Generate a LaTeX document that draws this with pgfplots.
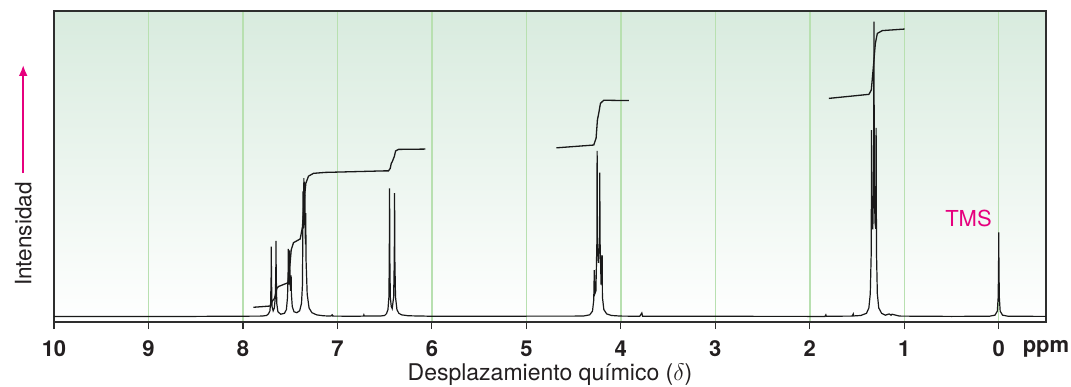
\documentclass[border=0pt]{standalone}
\usepackage{fontspec}
\setmainfont{TeX Gyre Heros}
\usepackage{pgfplots}
\pgfplotsset{compat=1.18}
\usetikzlibrary{arrows.meta}
\definecolor{bgtop}{HTML}{D8EBDE}
\definecolor{gridgreen}{HTML}{B8E0B0}
\definecolor{tmsmag}{HTML}{E6007E}
\definecolor{framegray}{HTML}{2E2E2E}
\definecolor{txt}{HTML}{231F20}
\begin{document}
\begin{tikzpicture}
\useasboundingbox (-27pt,-32pt) rectangle (508.5pt,161pt);
\begin{axis}[
  at={(0,0)}, anchor=south west,
  width=496pt, height=155.5pt, scale only axis,
  x dir=reverse,
  xmin=-0.5, xmax=10, ymin=0, ymax=100,
  xtick={0,1,2,3,4,5,6,7,8,9,10},
  ytick=\empty,
  xtick pos=bottom,
  tick align=outside,
  major tick length=3.5pt,
  xmajorgrids,
  grid style={gridgreen, line width=0.7pt},
  axis line style={framegray, line width=0.6pt},
  tick style={framegray, line width=0.6pt},
  axis background/.style={top color=bgtop, bottom color=white},
  xticklabel style={font=\bfseries\fontsize{11}{13}\selectfont, text=txt, yshift=-2.2pt},
  /pgf/number format/assume math mode=true,
]
% spectrum
\addplot[black!90, line width=0.6pt] coordinates {
(10,1.8) (8.5,1.8) (7.80,1.9) (7.75,2.1) (7.73,2.6) (7.715,3.5) (7.707,6) (7.702,14) (7.700,24.2) (7.698,14) (7.692,5)
(7.68,3.6) (7.668,4.5) (7.657,8) (7.652,16) (7.650,26.1) (7.648,16) (7.642,6) (7.63,3.3) (7.60,2.5) (7.56,2.8)
(7.54,4) (7.528,8) (7.522,16) (7.520,23.5) (7.517,14) (7.512,12) (7.507,17) (7.505,23) (7.502,14) (7.496,10)
(7.492,12) (7.490,15) (7.487,9) (7.478,5) (7.46,3.3) (7.43,3.0) (7.40,3.6) (7.38,6) (7.37,12) (7.366,30)
(7.365,42) (7.363,30) (7.358,32) (7.355,46.3) (7.352,32) (7.348,33) (7.345,45) (7.342,30) (7.338,25) (7.335,35)
(7.332,20) (7.32,9) (7.30,4.5) (7.27,3) (7.22,2.3) (7.15,2.0) (7.07,1.9) (7.055,2.3) (7.05,1.9) (6.80,1.85)
(6.725,1.9) (6.72,2.3) (6.715,1.9) (6.55,1.9) (6.50,2.1) (6.48,2.7) (6.465,4) (6.455,8) (6.451,20) (6.448,43.0)
(6.445,20) (6.44,8) (6.43,5) (6.42,4.3) (6.405,8) (6.398,20) (6.395,41.4) (6.392,20) (6.385,8) (6.37,4)
(6.35,2.8) (6.32,2.3) (6.25,2.0) (6.0,1.85) (4.40,1.9) (4.33,2.3) (4.30,3.5) (4.287,7) (4.281,16.7) (4.276,9)
(4.264,10) (4.254,25) (4.251,55) (4.248,25) (4.237,19) (4.226,26) (4.223,48) (4.220,26) (4.209,12) (4.198,21.5)
(4.195,8) (4.18,4) (4.15,2.6) (4.10,2.1) (4.0,1.9) (3.80,1.85) (3.778,2.9) (3.770,1.85) (2.0,1.8) (1.84,1.8)
(1.83,2.3) (1.825,1.85) (1.55,1.9) (1.54,2.6) (1.535,1.95) (1.46,2.1) (1.40,2.8) (1.375,4.5) (1.36,9) (1.35,22)
(1.346,61.7) (1.342,30) (1.333,30) (1.325,45) (1.321,96.6) (1.317,45) (1.310,32) (1.302,30) (1.298,62.4) (1.294,22)
(1.285,9) (1.27,4.5) (1.24,2.8) (1.2,2.2) (1.16,2.6) (1.14,2.2) (1.13,2.5) (1.05,1.9) (0.5,1.8) (0.10,1.85)
(0.04,2.2) (0.015,3.5) (0.006,8) (0.002,18) (0.0,28.8) (-0.002,18) (-0.006,8) (-0.015,3.5) (-0.04,2.2) (-0.10,1.85)
(-0.5,1.8)
};
% integral 1
\addplot[black!90, line width=0.65pt] coordinates {
(7.889,4.73) (7.712,5.14) (7.694,6.5) (7.666,7.6) (7.641,10.8) (7.624,11.4) (7.525,12.6) (7.507,16.7)
(7.489,23.2) (7.465,25.5) (7.394,26.7) (7.37,30.6) (7.352,39.2) (7.334,44.6) (7.306,46.9) (7.253,47.8)
(7.13,48.1) (6.494,48.6) (6.459,48.6) (6.441,49.4) (6.43,51.0) (6.42,51.5) (6.398,53.2) (6.384,55.0)
(6.353,55.5) (6.07,55.6)
};
% integral 2
\addplot[black!90, line width=0.65pt] coordinates {
(4.682,56.0) (4.287,56.9) (4.262,59.1) (4.248,65.0) (4.234,67.1) (4.216,70.3) (4.181,71.3) (3.916,71.2)
};
% integral 3
\addplot[black!90, line width=0.65pt] coordinates {
(1.798,71.9) (1.374,73.2) (1.349,74.6) (1.327,82.1) (1.306,89.6) (1.285,92.8) (1.232,93.7) (0.996,94.2)
};
\node[text=tmsmag, font=\fontsize{11}{13}\selectfont] at (axis cs:0.32,33.4) {TMS};
\end{axis}
\node[font=\bfseries\fontsize{11}{13}\selectfont, text=txt] at (496pt,-13.5pt) {ppm};
\node[font=\fontsize{11.5}{14}\selectfont, text=txt] at (248pt,-26.5pt) {Desplazamiento químico ($\delta$)};
\node[font=\fontsize{11.3}{13}\selectfont, text=txt, rotate=90] at (-15.4pt,44pt) {Intensidad};
\draw[tmsmag, line width=1pt, -{Latex[length=5.5pt,width=4.5pt]}] (-15.4pt,74.5pt) -- (-15.4pt,128.5pt);
\end{tikzpicture}
\end{document}
